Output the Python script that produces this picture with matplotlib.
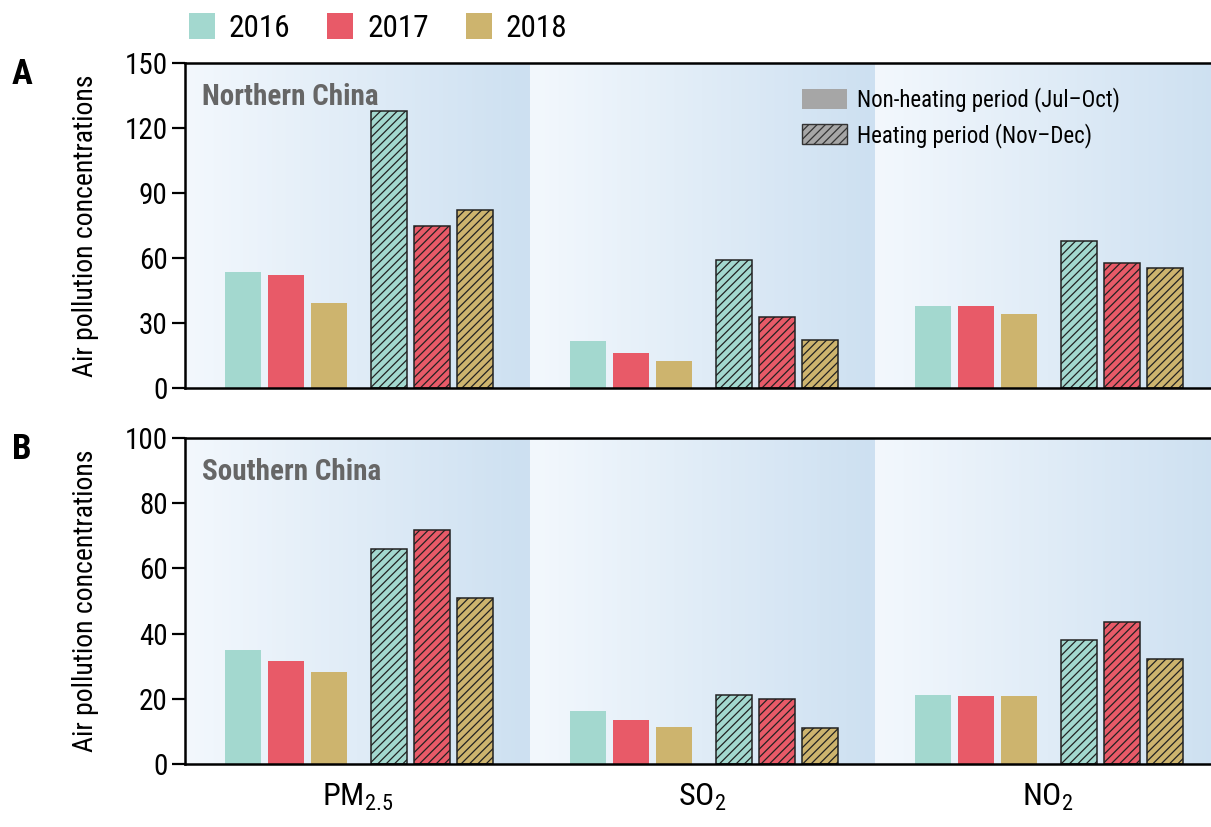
import matplotlib
matplotlib.use('Agg')
import matplotlib.pyplot as plt
from matplotlib.colors import LinearSegmentedColormap
from matplotlib.patches import Patch
import numpy as np

plt.rcParams['font.family'] = ['Roboto Condensed', 'DejaVu Sans']
plt.rcParams['mathtext.fontset'] = 'custom'
plt.rcParams['mathtext.rm'] = 'Roboto Condensed'
plt.rcParams['mathtext.default'] = 'regular'
plt.rcParams['hatch.linewidth'] = 0.9

###############################################################################

pollutants = ['PM$_{2.5}$', 'SO$_2$', 'NO$_2$']
years = ['2016', '2017', '2018']
year_colors = ['#a3d8cf', '#e85a68', '#cdb46e']

# rows: year, cols: pollutant
north_nonheat = [[53.5, 21.5, 38.0],
                 [52.3, 16.2, 38.0],
                 [39.1, 12.5, 34.1]]
north_heat = [[128.0, 59.0, 67.8],
              [74.8, 32.8, 57.7],
              [82.0, 22.2, 55.4]]
south_nonheat = [[35.0, 16.3, 21.2],
                 [31.6, 13.6, 20.9],
                 [28.2, 11.3, 20.7]]
south_heat = [[66.0, 21.2, 38.0],
              [71.8, 19.9, 43.4],
              [50.9, 11.0, 32.1]]

###############################################################################

bg_cmap = LinearSegmentedColormap.from_list('bg', ['#f3f8fd', '#cde0f1'])
grad = np.linspace(0, 1, 256).reshape(1, -1)

width = 0.105
nonheat_off = [0.168, 0.293, 0.417]
heat_off = [0.591, 0.716, 0.840]


def draw_panel(ax, nonheat, heat, ymax, yticks, region, letter):
    x = np.arange(len(pollutants))
    for g in x:
        ax.imshow(grad, cmap=bg_cmap, extent=[g, g + 1, 0, ymax],
                  aspect='auto', zorder=0, interpolation='bicubic')
    for i in range(len(years)):
        ax.bar(x + nonheat_off[i], nonheat[i], width, color=year_colors[i],
               align='center', zorder=2, linewidth=0)
        ax.bar(x + heat_off[i], heat[i], width, color=year_colors[i],
               edgecolor='#222222', linewidth=1.1, hatch='////',
               align='center', zorder=2)
    ax.set_xlim(0, 2.974)
    ax.set_ylim(0, ymax)
    ax.set_yticks(yticks)
    ax.tick_params(axis='y', labelsize=21, length=9.5, width=1.6, pad=3)
    ax.tick_params(axis='x', length=0)
    ax.set_ylabel('Air pollution concentrations', fontsize=20)
    ax.yaxis.set_label_coords(-0.084, 0.5)
    for s in ['left', 'top', 'bottom']:
        ax.spines[s].set_linewidth(1.8)
    ax.spines['right'].set_visible(False)
    ax.text(0.017, 0.895, region, transform=ax.transAxes, fontsize=21,
            fontweight='bold', color='#666666', va='center', ha='left')
    ax.text(-0.1686, 0.965, letter, transform=ax.transAxes, fontsize=25,
            fontweight='bold', va='center', ha='left')


fig = plt.figure(figsize=(12.11, 8.27), dpi=100)
ax1 = fig.add_axes([0.1528, 0.5308, 0.8472, 0.393])
ax2 = fig.add_axes([0.1528, 0.0762, 0.8472, 0.3942])

draw_panel(ax1, north_nonheat, north_heat, 150, [0, 30, 60, 90, 120, 150],
           'Northern China', 'A')
draw_panel(ax2, south_nonheat, south_heat, 100, [0, 20, 40, 60, 80, 100],
           'Southern China', 'B')

ax1.set_xticks([])
ax2.set_xticks(np.arange(len(pollutants)) + 0.5)
ax2.set_xticklabels(pollutants, fontsize=23)
ax2.tick_params(axis='x', pad=13)

# period legend inside panel A
period_handles = [Patch(facecolor='#a6a6a6', edgecolor='none'),
                  Patch(facecolor='#a6a6a6', edgecolor='#333333',
                        hatch='////', linewidth=1.0)]
ax1.legend(period_handles, ['Non-heating period (Jul\u2013Oct)',
                            'Heating period (Nov\u2013Dec)'],
           loc='upper left', bbox_to_anchor=(0.601, 0.925), frameon=False,
           borderpad=0, borderaxespad=0,
           fontsize=16.5, handlelength=2.0, handleheight=1.0,
           handletextpad=0.4, labelspacing=0.45)

# year legend across the top
year_handles = [Patch(facecolor=c, edgecolor='none') for c in year_colors]
fig.legend(year_handles, years, loc='center left',
           bbox_to_anchor=(0.156, 0.966), ncol=3, frameon=False,
           borderpad=0, borderaxespad=0,
           fontsize=22.5, handlelength=0.83, handleheight=0.88,
           handletextpad=0.45, columnspacing=1.18)

fig.savefig('out.png', dpi=100)
